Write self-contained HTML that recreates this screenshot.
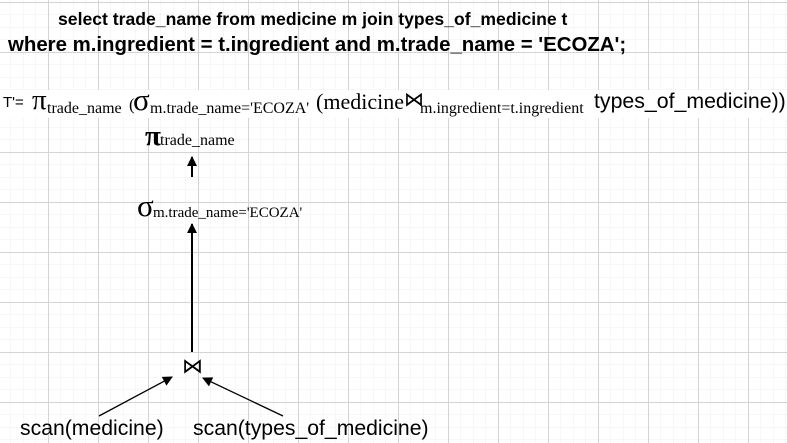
<!DOCTYPE html>
<html><head><meta charset="utf-8"><style>
body{margin:0;width:787px;height:443px;overflow:hidden;background:#fff;position:relative;font-family:"Liberation Sans",sans-serif}
.t{position:absolute;white-space:nowrap;color:#000;line-height:1}
.s{font-family:"Liberation Serif",serif}
</style></head><body>
<svg width="787" height="443" style="position:absolute;left:0;top:0">
<defs>
<pattern id="minor" x="-2" y="2" width="12.5" height="12.5" patternUnits="userSpaceOnUse"><path d="M0 0H12.5M0 0V12.5" stroke="#efefef" stroke-width="1" fill="none"/></pattern>
<pattern id="major" x="-2" y="2" width="50" height="50" patternUnits="userSpaceOnUse"><path d="M0 0.5H50M0.5 0V50" stroke="#d4d4d4" stroke-width="1" fill="none"/></pattern>
<marker id="ah" markerWidth="10" markerHeight="10" refX="9" refY="5" orient="auto" markerUnits="userSpaceOnUse"><path d="M0 0L10 5L0 10Z" fill="#000"/></marker>
</defs>
<rect width="787" height="443" fill="url(#minor)"/>
<rect width="787" height="443" fill="url(#major)"/>
<rect x="0" y="90" width="787" height="28" fill="#fff"/>
<line x1="192" y1="177" x2="192" y2="157" stroke="#000" stroke-width="2" marker-end="url(#ah)"/>
<line x1="192" y1="352" x2="192" y2="224" stroke="#000" stroke-width="2" marker-end="url(#ah)"/>
<line x1="99" y1="416" x2="172" y2="377" stroke="#000" stroke-width="1.3" marker-end="url(#ah)"/>
<line x1="283" y1="416" x2="203" y2="378" stroke="#000" stroke-width="1.3" marker-end="url(#ah)"/>
</svg>
<div class="t" style="left:58px;top:11px;font-size:17.6px;font-weight:bold">select trade_name from medicine m join types_of_medicine t</div>
<div class="t" style="left:8px;top:35px;font-size:20.4px;font-weight:bold">where m.ingredient = t.ingredient and m.trade_name = 'ECOZA';</div>
<div>
<div class="t" style="left:3px;top:95px;font-size:15px">T'=</div>
<div class="t s" style="left:32px;top:86px;font-size:29px">π</div>
<div class="t s" style="left:47px;top:101px;font-size:16px">trade_name</div>
<div class="t s" style="left:129px;top:96px;font-size:17px">(</div>
<div class="t s" style="left:133px;top:84px;font-size:31px">σ</div>
<div class="t s" style="left:150px;top:101px;font-size:16px">m.trade_name='ECOZA'</div>
<div class="t s" style="left:316px;top:91px;font-size:22px">(medicine</div>
<div class="t" style="left:404px;top:90px;font-size:20px">⋈</div>
<div class="t s" style="left:420px;top:101px;font-size:16px">m.ingredient=t.ingredient</div>
<div class="t" style="left:594px;top:91px;font-size:21.3px">types_of_medicine))</div>
</div>
<div>
<div class="t s" style="left:145px;top:122px;font-size:29px;font-weight:bold">π</div>
<div class="t s" style="left:160px;top:133px;font-size:16px">trade_name</div>
</div>
<div>
<div class="t s" style="left:137px;top:190px;font-size:31px">σ</div>
<div class="t s" style="left:153px;top:206px;font-size:15px">m.trade_name='ECOZA'</div>
</div>
<div class="t" style="left:182px;top:356px;font-size:21px">⋈</div>
<div class="t" style="left:20px;top:418px;font-size:21.2px">scan(medicine)</div>
<div class="t" style="left:193px;top:418px;font-size:21.2px">scan(types_of_medicine)</div>
</body></html>
